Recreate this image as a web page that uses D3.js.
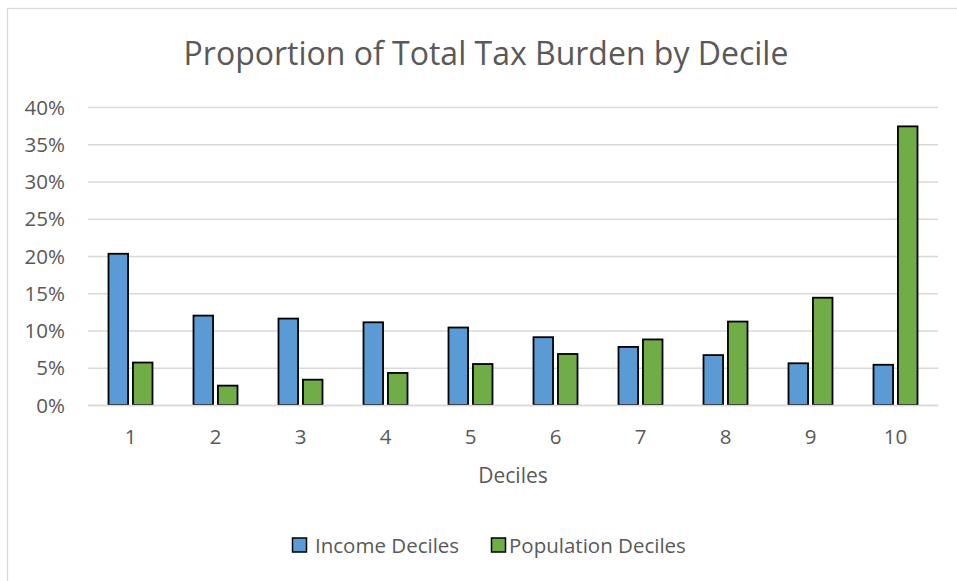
<!DOCTYPE html>
<html><head><meta charset="utf-8">
<script src="https://cdn.jsdelivr.net/npm/d3@7"></script>
<style>html,body{margin:0;padding:0;background:#fff;}svg{display:block;}</style>
</head><body>
<script>
const categories = ["1","2","3","4","5","6","7","8","9","10"];
const seriesNames = ["Income Deciles","Population Deciles"];
const incomeDeciles = [20.3, 12.0, 11.6, 11.1, 10.4, 9.1, 7.8, 6.7, 5.6, 5.4];
const populationDeciles = [5.7, 2.6, 3.4, 4.3, 5.5, 6.85, 8.8, 11.2, 14.4, 37.4];
const yTicks = [0,5,10,15,20,25,30,35,40];
const colors = ["#5B9BD5","#70AD47"];
const title = "Proportion of Total Tax Burden by Decile";
const xTitle = "Deciles";

const W = 957, H = 581;
const FONT = "'Open Sans', sans-serif";
const TXT = "#595959";
const svg = d3.select("body").append("svg").attr("width", W).attr("height", H);

svg.append("rect").attr("x",7.5).attr("y",8.5).attr("width",W+20).attr("height",H+20)
  .attr("fill","#fff").attr("stroke","#D9D9D9").attr("stroke-width",1.3);

const m = {left:88, right:938, top:107, bottom:405};
const x0 = d3.scaleBand().domain(categories).range([m.left, m.right]).padding(0);
const x1 = d3.scaleBand().domain(seriesNames).range([-22, 22]).paddingInner(0.2).paddingOuter(0);
const y = d3.scaleLinear().domain([0,40]).range([m.bottom, m.top]);

// gridlines
const yAxis = d3.axisLeft(y).tickValues(yTicks).tickSize(-(m.right-m.left)).tickPadding(23).tickFormat(d => d + "%");
const gy = svg.append("g").attr("transform", `translate(${m.left},0)`).call(yAxis);
gy.select(".domain").remove();
gy.selectAll(".tick line").attr("stroke","#D9D9D9").attr("stroke-width",1.3);
gy.selectAll(".tick text").attr("fill",TXT).style("font-family",FONT).style("font-size","20.5px").attr("dy","0.35em");

// bars
const data = categories.map((c,i) => ({cat:c, vals:[incomeDeciles[i], populationDeciles[i]]}));
const groups = svg.append("g").selectAll("g").data(data).join("g")
  .attr("transform", d => `translate(${x0(d.cat) + x0.bandwidth()/2},0)`);
groups.selectAll("rect").data(d => d.vals.map((v,j) => ({name:seriesNames[j], v, j}))).join("rect")
  .attr("x", d => x1(d.name))
  .attr("width", x1.bandwidth())
  .attr("y", d => y(d.v))
  .attr("height", d => y(0) - y(d.v))
  .attr("fill", d => colors[d.j])
  .attr("stroke", "#000").attr("stroke-width", 1.8);

// x axis
const xAxis = d3.axisBottom(x0).tickSize(0).tickPadding(24);
const gx = svg.append("g").attr("transform", `translate(0,${m.bottom})`).call(xAxis);
gx.select(".domain").attr("stroke","#D9D9D9").attr("stroke-width",1.3);
gx.selectAll(".tick text").attr("fill",TXT).style("font-family",FONT).style("font-size","20.5px");

// titles
svg.append("text").attr("x",486).attr("y",52).attr("text-anchor","middle").attr("dominant-baseline","central")
  .attr("fill",TXT).style("font-family",FONT).style("font-size","32px").text(title);
svg.append("text").attr("x",(m.left+m.right)/2).attr("y",475).attr("text-anchor","middle").attr("dominant-baseline","central")
  .attr("fill",TXT).style("font-family",FONT).style("font-size","21px").text(xTitle);

// legend
const legendX = [292, 491];
const lg = svg.append("g").selectAll("g").data(seriesNames).join("g")
  .attr("transform", (d,i) => `translate(${legendX[i]},545)`);
lg.append("rect").attr("x",0.5).attr("y",-7).attr("width",14).attr("height",14)
  .attr("fill",(d,i)=>colors[i]).attr("stroke","#000").attr("stroke-width",1.5);
lg.append("text").attr("x",(d,i)=> i===0 ? 23 : 18).attr("y",0).attr("dominant-baseline","central")
  .attr("fill",TXT).style("font-family",FONT).style("font-size","20.5px").text(d=>d);
</script>
</body></html>
